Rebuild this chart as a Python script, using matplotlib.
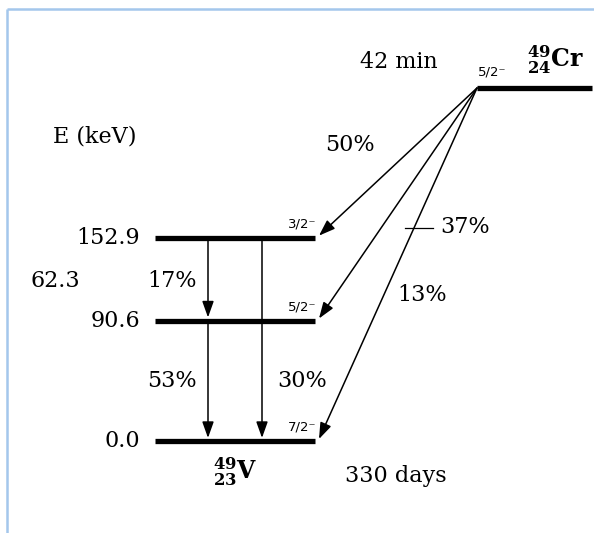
import matplotlib
matplotlib.use("Agg")
import matplotlib.pyplot as plt

# Decay of 49Cr (42 min) to 49V (330 days)
level_energies = [0.0, 90.6, 152.9]          # keV
level_labels = ["0.0", "90.6", "152.9"]
level_spins = ["7/2⁻", "5/2⁻", "3/2⁻"]
parent_spin = "5/2⁻"
parent_name = r"${}^{\mathbf{49}}_{\mathbf{24}}\mathbf{Cr}$"
daughter_name = r"${}^{\mathbf{49}}_{\mathbf{23}}\mathbf{V}$"
parent_halflife = "42 min"
daughter_halflife = "330 days"

# beta branches: feeding level energy -> intensity (%)
beta_levels = [152.9, 90.6, 0.0]
beta_intensity = [50, 37, 13]

# gamma transitions: (from, to, intensity %)
gamma_from = [152.9, 90.6, 152.9]
gamma_to = [90.6, 0.0, 0.0]
gamma_intensity = [17, 53, 30]
gamma_energy_label = "62.3"

plt.rcParams["font.family"] = ["DejaVu Serif"]
plt.rcParams["mathtext.fontset"] = "dejavuserif"

W, H = 594, 533
fig = plt.figure(figsize=(W / 100, H / 100), dpi=100)
ax = fig.add_axes([0, 0, 1, 1])

# vertical scale: energy axis, 1.33 px per keV, 0 keV at row 441
px_per_kev = 1.33
e_top = 441 / px_per_kev
e_bottom = (441 - H) / px_per_kev
ax.set_xlim(0, W)
ax.set_ylim(e_bottom, e_top)
ax.axis("off")


def yp(row):
    """Pixel row -> energy coordinate."""
    return (441 - row) / px_per_kev


parent_height = yp(88)
lvl_x0, lvl_x1 = 155, 315
par_x0, par_x1 = 477, 592

# frame
ax.plot([7, 7], [yp(9), yp(H)], color="#a4c7ec", lw=1.8, solid_capstyle="butt")
ax.plot([7, W], [yp(9), yp(9)], color="#a4c7ec", lw=1.8, solid_capstyle="butt")

# levels
for e, lab, sp in zip(level_energies, level_labels, level_spins):
    ax.plot([lvl_x0, lvl_x1], [e, e], color="black", lw=3.8, solid_capstyle="butt")
    ax.text(140, e, lab, ha="right", va="center", fontsize=16)
    ax.text(288, e + 10.5, sp, ha="left", va="center", fontsize=9.5,
            family="DejaVu Sans")

ax.plot([par_x0, par_x1], [parent_height, parent_height], color="black",
        lw=3.8, solid_capstyle="butt")
ax.text(478, yp(72), parent_spin, ha="left", va="center", fontsize=9.5,
        family="DejaVu Sans")
ax.text(527, yp(60), parent_name, ha="left", va="center", fontsize=17)
ax.text(399, yp(62), parent_halflife, ha="center", va="center", fontsize=16)

arrow = dict(arrowstyle="-|>,head_length=0.7,head_width=0.25", color="black",
             lw=1.1, mutation_scale=14, shrinkA=0)

# beta branches
for e in beta_levels:
    ax.annotate("", xy=(319, e + 1.5), xytext=(par_x0, parent_height),
                arrowprops=dict(arrow, shrinkB=0))

beta_pos = {50: (350, yp(145), "center"), 37: (440, yp(227), "left"),
            13: (422, yp(295), "center")}
for val in beta_intensity:
    x, y, ha = beta_pos[val]
    ax.text(x, y, f"{val}%", ha=ha, va="center", fontsize=16)
ax.plot([405, 433], [yp(228), yp(228)], color="black", lw=0.9)

# gamma transitions
gamma_x = {(152.9, 90.6): 208, (90.6, 0.0): 208, (152.9, 0.0): 262}
for ef, et in zip(gamma_from, gamma_to):
    x = gamma_x[(ef, et)]
    ax.annotate("", xy=(x, et), xytext=(x, ef),
                arrowprops=dict(arrow, shrinkB=2.2))

gamma_pos = {17: (172, yp(281)), 53: (172, yp(381)), 30: (302, yp(381))}
for val in gamma_intensity:
    x, y = gamma_pos[val]
    ax.text(x, y, f"{val}%", ha="center", va="center", fontsize=16)
ax.text(55, yp(281), gamma_energy_label, ha="center", va="center", fontsize=16)

ax.text(95, yp(136), "E (keV)", ha="center", va="center", fontsize=16)
ax.text(235, yp(472), daughter_name, ha="center", va="center", fontsize=17)
ax.text(396, yp(476), daughter_halflife, ha="center", va="center", fontsize=16)

fig.savefig("out.png", dpi=100)
